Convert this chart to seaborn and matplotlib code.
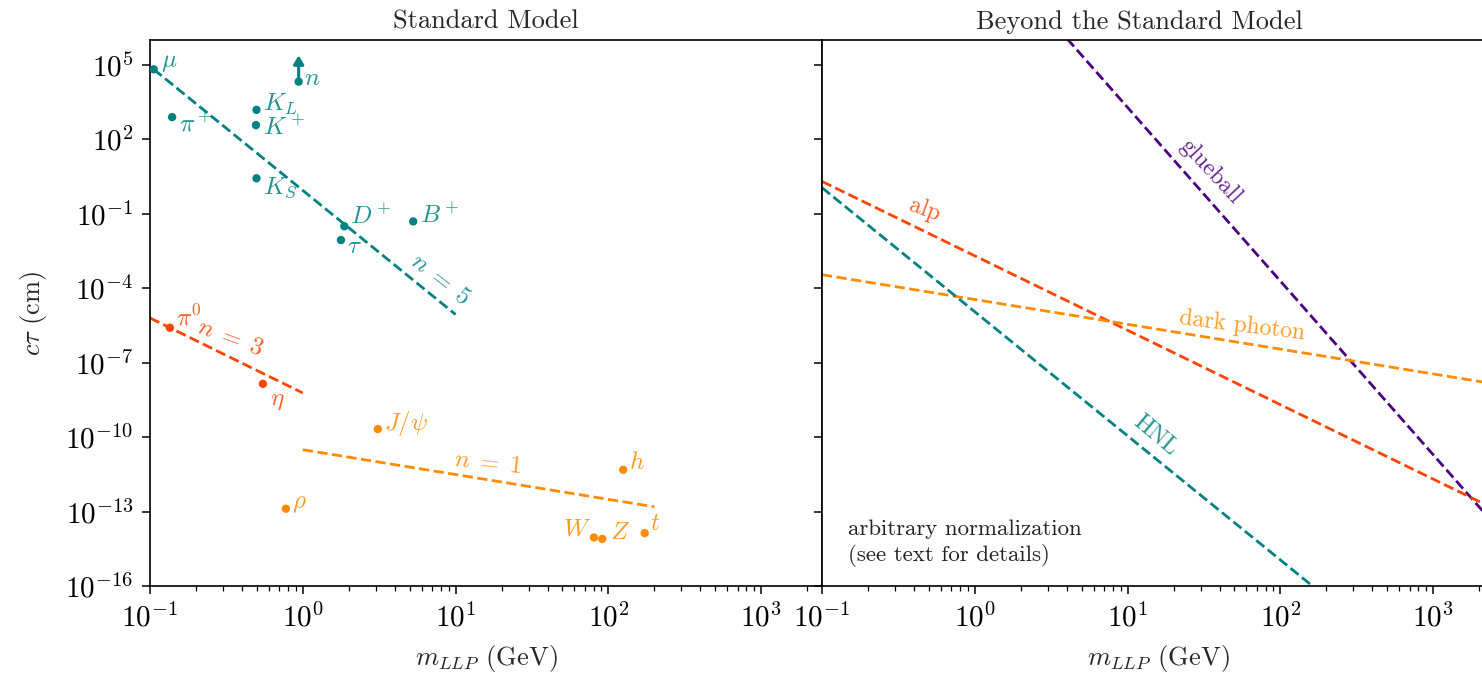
import numpy as np
import pandas as pd
import matplotlib
matplotlib.use("Agg")
import matplotlib.pyplot as plt
import matplotlib.ticker as mticker
import seaborn as sns

# ---------------- data ----------------
# Standard Model particles: mass (GeV), c*tau (cm)
teal_names = [r"$\mu$", r"$\pi^+$", r"$K_L$", r"$K^+$", r"$K_S$", r"$D^+$", r"$\tau$", r"$B^+$", r"$n$"]
teal_mass = [0.1057, 0.1396, 0.4976, 0.4937, 0.4976, 1.870, 1.777, 5.279, 0.9396]
teal_ctau = [6.59e4, 780.0, 1534.0, 371.0, 2.68, 0.0312, 0.0087, 0.0491, 2.1e4]

red_names = [r"$\pi^0$", r"$\eta$"]
red_mass = [0.135, 0.548]
red_ctau = [2.55e-6, 1.4e-8]

orange_names = [r"$J/\psi$", r"$\rho$", r"$h$", r"$W$", r"$Z$", r"$t$"]
orange_mass = [3.097, 0.775, 125.0, 80.4, 91.2, 172.7]
orange_ctau = [2.1e-10, 1.3e-13, 4.8e-12, 9.0e-15, 7.9e-15, 1.35e-14]

# scaling lines (end points)
n5_x = [0.1057, 10.0]
n5_y = [6.59e4, 8.7e-6]
n3_x = [0.1, 1.0]
n3_y = [6.3e-6, 6.0e-9]
n1_x = [1.0, 200.0]
n1_y = [3.1e-11, 1.55e-13]

# BSM lines (end points)
glue_x = [3.0, 2500.0]
glue_y = [8.7e6, 3.2e-14]
alp_x = [0.1, 2500.0]
alp_y = [2.0, 1.3e-13]
dp_x = [0.1, 2500.0]
dp_y = [3.5e-4, 1.4e-8]
hnl_x = [0.1, 200.0]
hnl_y = [1.12, 3.5e-17]

TEAL = "#008080"
RED = "#FF4500"
ORANGE = "#FF8C00"
INDIGO = "#4B0082"

# ---------------- style ----------------
sns.set_style("ticks")
plt.rcParams["font.family"] = ["cmr10", "DejaVu Serif"]
plt.rcParams["mathtext.fontset"] = "cm"
plt.rcParams["axes.formatter.use_mathtext"] = True
plt.rcParams["axes.unicode_minus"] = True
plt.rcParams["axes.edgecolor"] = "black"
plt.rcParams["axes.linewidth"] = 1.2
plt.rcParams["xtick.color"] = "black"
plt.rcParams["ytick.color"] = "black"

W, H = 1482, 678
fig = plt.figure(figsize=(W / 100, H / 100), dpi=100)
ax1 = fig.add_axes([150 / W, (H - 586) / H, 672 / W, 546 / H])
ax2 = fig.add_axes([822 / W, (H - 586) / H, 672 / W, 546 / H], sharey=ax1)

for ax in (ax1, ax2):
    ax.set_xscale("log")
    ax.set_yscale("log")
    ax.set_xlim(0.1, 2500)
    ax.set_ylim(1e-16, 1e6)

LW = 2.0
ms = 36

# ---- left panel ----
sns.lineplot(x=n5_x, y=n5_y, ax=ax1, color=TEAL, lw=LW, linestyle="--", legend=False)
sns.lineplot(x=n3_x, y=n3_y, ax=ax1, color=RED, lw=LW, linestyle="--", legend=False)
sns.lineplot(x=n1_x, y=n1_y, ax=ax1, color=ORANGE, lw=LW, linestyle="--", legend=False)

sns.scatterplot(x=teal_mass, y=teal_ctau, ax=ax1, color=TEAL, s=ms, edgecolor="none", legend=False, zorder=3)
sns.scatterplot(x=red_mass, y=red_ctau, ax=ax1, color=RED, s=ms, edgecolor="none", legend=False, zorder=3)
sns.scatterplot(x=orange_mass, y=orange_ctau, ax=ax1, color=ORANGE, s=ms, edgecolor="none", legend=False, zorder=3)

# neutron lower-limit arrow
ax1.annotate("", xy=(teal_mass[8], 2.4e5), xytext=(teal_mass[8], teal_ctau[8]),
             arrowprops=dict(arrowstyle="-|>,head_width=0.3,head_length=0.5", color=TEAL, lw=2.2,
                             shrinkA=0, shrinkB=0))

LFS = 18
teal_off = [(7, 6, "left"), (7, -7, "left"), (7, 5, "left"), (7, -3, "left"), (7, -9, "left"),
            (6, 10, "left"), (6, -7, "left"), (7, 6, "left"), (5, 3, "left")]
for nm, xm, yc, (dx, dy, ha) in zip(teal_names, teal_mass, teal_ctau, teal_off):
    ax1.annotate(nm, (xm, yc), xytext=(dx, dy), textcoords="offset pixels", ha=ha, va="center",
                 color=TEAL, fontsize=LFS, alpha=0.85)
red_off = [(6, 10, "left"), (7, -17, "left")]
for nm, xm, yc, (dx, dy, ha) in zip(red_names, red_mass, red_ctau, red_off):
    ax1.annotate(nm, (xm, yc), xytext=(dx, dy), textcoords="offset pixels", ha=ha, va="center",
                 color=RED, fontsize=LFS, alpha=0.85)
orange_off = [(6, 6, "left"), (6, 5, "left"), (6, 7, "left"), (-3, 8, "right"), (8, 6, "left"), (5, 9, "left")]
for nm, xm, yc, (dx, dy, ha) in zip(orange_names, orange_mass, orange_ctau, orange_off):
    ax1.annotate(nm, (xm, yc), xytext=(dx, dy), textcoords="offset pixels", ha=ha, va="center",
                 color=ORANGE, fontsize=LFS, alpha=0.85)

ax1.text(7.9, 10**-3.66, r"$n\;=\;5$", rotation=-38, color=TEAL, fontsize=LFS, alpha=0.85,
         ha="center", va="center", rotation_mode="anchor")
ax1.text(0.334, 10**-6.0, r"$n\;=\;3$", rotation=-20, color=RED, fontsize=LFS, alpha=0.85,
         ha="center", va="center", rotation_mode="anchor")
ax1.text(16.3, 10**-11.05, r"$n\;=\;1$", rotation=-6, color=ORANGE, fontsize=LFS, alpha=0.85,
         ha="center", va="center", rotation_mode="anchor")

# ---- right panel ----
sns.lineplot(x=glue_x, y=glue_y, ax=ax2, color=INDIGO, lw=LW, linestyle="--", legend=False)
sns.lineplot(x=alp_x, y=alp_y, ax=ax2, color=RED, lw=LW, linestyle="--", legend=False)
sns.lineplot(x=dp_x, y=dp_y, ax=ax2, color=ORANGE, lw=LW, linestyle="--", legend=False)
sns.lineplot(x=hnl_x, y=hnl_y, ax=ax2, color=TEAL, lw=LW, linestyle="--", legend=False)

BFS = 17
ax2.text(0.47, 10**-0.84, "alp", rotation=-20, color=RED, fontsize=BFS, alpha=0.85,
         ha="center", va="center", rotation_mode="anchor")
ax2.text(34.7, 10**0.7, "glueball", rotation=-47, color=INDIGO, fontsize=BFS, alpha=0.85,
         ha="center", va="center", rotation_mode="anchor")
ax2.text(56, 10**-5.52, "dark photon", rotation=-7, color=ORANGE, fontsize=BFS, alpha=0.85,
         ha="center", va="center", rotation_mode="anchor")
ax2.text(15.1, 10**-9.92, "HNL", rotation=-40, color=TEAL, fontsize=BFS, alpha=0.85,
         ha="center", va="center", rotation_mode="anchor")
ax2.text(0.039, 0.035, "arbitrary normalization\n(see text for details)", transform=ax2.transAxes,
         ha="left", va="bottom", fontsize=16.5, color="#222222", linespacing=1.3)

# ---- axes formatting ----
TFS = 21
for ax in (ax1, ax2):
    ax.xaxis.set_major_locator(mticker.LogLocator(base=10, numticks=20))
    ax.xaxis.set_minor_locator(mticker.LogLocator(base=10, subs=np.arange(2, 10), numticks=20))
    ax.xaxis.set_minor_formatter(mticker.NullFormatter())
    ax.tick_params(axis="both", which="major", direction="out", length=6, width=1.1, labelsize=TFS, pad=6)
    ax.tick_params(axis="x", which="minor", direction="out", length=3.5, width=0.9)
    ax.set_xlabel(r"$m_{LLP}$ (GeV)", fontsize=19, labelpad=8)

ax1.yaxis.set_major_locator(mticker.FixedLocator(10.0 ** np.arange(-16, 6, 3)))
ax1.yaxis.set_minor_locator(mticker.NullLocator())
ax1.yaxis.set_major_formatter(mticker.LogFormatterSciNotation())
ax1.tick_params(axis="y", which="minor", length=0)
plt.setp(ax2.get_yticklabels(), visible=False)
ax1.set_ylabel(r"$c\tau$ (cm)", fontsize=19, labelpad=12)

ax1.set_title("Standard Model", fontsize=19, pad=8)
ax2.set_title("Beyond the Standard Model", fontsize=19, pad=8, x=0.473)

fig.savefig("out.png", dpi=100)
